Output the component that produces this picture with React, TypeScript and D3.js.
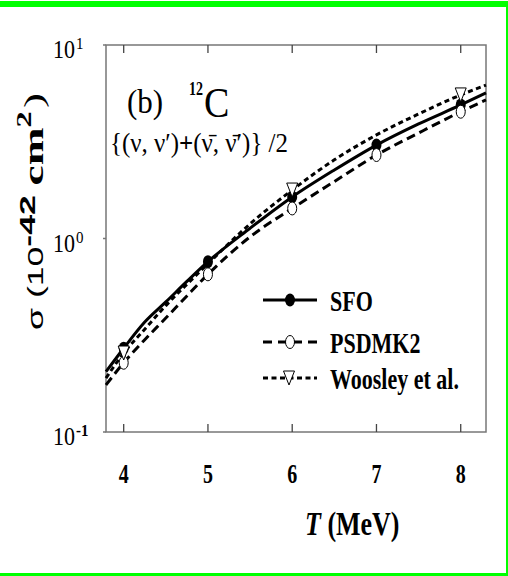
import React from "react";
import * as d3 from "d3";

// ---- data ----
const tGrid = [3.79, 4.0, 4.25, 4.5, 4.75, 5.0, 5.5, 6.0, 6.5, 7.0, 7.5, 8.0, 8.3];
const sfo = [0.205, 0.271, 0.37, 0.47, 0.6, 0.759, 1.13, 1.64, 2.26, 3.04, 3.91, 4.9, 5.65];
const psdmk2 = [0.175, 0.228, 0.3, 0.388, 0.505, 0.653, 1.02, 1.43, 1.97, 2.7, 3.51, 4.52, 5.2];
const woosley = [0.19, 0.256, 0.34, 0.45, 0.58, 0.74, 1.19, 1.78, 2.55, 3.43, 4.4, 5.52, 6.2];
const markerT_SFO = [4, 5, 6, 7, 8];
const markerT_PSDMK2 = [4, 5, 6, 7, 8];
const markerT_Woosley = [4, 6, 8];
const xTicks = [4, 5, 6, 7, 8];
const yTicks = [{ v: 0.1, e: "-1" }, { v: 1, e: "0" }, { v: 10, e: "1" }];
const legendLabels = ["SFO", "PSDMK2", "Woosley et al."];

const W = 508, H = 576;
const SERIF = "'Liberation Serif', 'Times New Roman', serif";
const SANS = "'Liberation Sans', Arial, sans-serif";

const x = d3.scaleLinear().domain([3.79, 8.3]).range([106, 486]);
const y = d3.scaleLog().domain([0.1, 10]).range([432, 45]);

const line = d3
  .line<[number, number]>()
  .x((d) => x(d[0]))
  .y((d) => y(d[1]))
  .curve(d3.curveMonotoneX);

const pts = (vals: number[]) => tGrid.map((t, i) => [t, vals[i]] as [number, number]);
const valAt = (vals: number[], t: number) => vals[tGrid.indexOf(t)];

const tri = (cx: number, cy: number) =>
  `M${cx - 5.5},${cy - 7}L${cx + 5.5},${cy - 7}L${cx},${cy + 7}Z`;

export default function App() {
  const axisCol = "#777";
  const legY = [300, 342, 378];
  return (
    <svg
      width={W}
      height={H}
      style={{ position: "absolute", left: 0, top: 0, background: "#fff" }}
    >
      <rect x={0} y={0} width={W} height={H} fill="#fff" />
      {/* green frame */}
      <rect x={0} y={1} width={508} height={6} fill="#00ff00" />
      <rect x={506} y={1} width={2} height={575} fill="#00ff00" />
      <rect x={0} y={573} width={508} height={3} fill="#00ff00" />

      {/* axes box */}
      <rect x={106} y={45} width={380} height={387} fill="none" stroke={axisCol} strokeWidth={1.5} />
      {xTicks.map((t) => (
        <g key={t}>
          <line x1={x(t)} x2={x(t)} y1={432} y2={424} stroke="#444" strokeWidth={1.3} />
          <line x1={x(t)} x2={x(t)} y1={45} y2={53} stroke="#444" strokeWidth={1.3} />
          <text
            transform={`translate(${x(t)},483) scale(1,1.33)`}
            textAnchor="middle"
            fontFamily={SERIF}
            fontWeight="bold"
            fontSize={20}
          >
            {t}
          </text>
        </g>
      ))}
      {yTicks.map((tk) => (
        <g key={tk.e}>
          <line x1={103} x2={106} y1={y(tk.v)} y2={y(tk.v)} stroke={axisCol} strokeWidth={1.5} />
          <text
            transform={`translate(53,${y(tk.v) + 13}) scale(1,1.1)`}
            fontFamily={SERIF}
            fontSize={22}
          >
            10
          </text>
          <text
            transform={`translate(76,${y(tk.v) + 4}) scale(1,1.1)`}
            fontFamily={SERIF}
            fontWeight={tk.e === "-1" ? "bold" : "normal"}
            fontSize={15}
          >
            {tk.e}
          </text>
        </g>
      ))}

      {/* axis titles */}
      <text transform="translate(305,535) scale(1,1.3)" fontFamily={SERIF} fontWeight="bold" fontSize={26}>
        <tspan fontStyle="italic">T</tspan>
        <tspan> (MeV)</tspan>
      </text>
      <text
        transform="translate(43,330) rotate(-90)"
        fontFamily={SANS}
        textLength={237}
        lengthAdjust="spacingAndGlyphs"
      >
        <tspan fontSize={22}>σ (10</tspan>
        <tspan fontSize={22} fontWeight="bold" dy={-8}>-42</tspan>
        <tspan fontFamily={SERIF} fontWeight="bold" fontSize={28} dy={8} dx={6}>cm</tspan>
        <tspan fontFamily={SERIF} fontWeight="bold" fontSize={20} dy={-12}>2</tspan>
        <tspan fontFamily={SERIF} fontSize={28} dy={12} dx={2}>)</tspan>
      </text>

      {/* annotations */}
      <text transform="translate(127,113) scale(1,1.1)" fontFamily={SERIF} fontSize={31}>(b)</text>
      <text transform="translate(189,95) scale(1,1.3)" fontFamily={SERIF} fontWeight="bold" fontSize={14}>12</text>
      <text transform="translate(204,117) scale(1,1.1)" fontFamily={SERIF} fontSize={38}>C</text>
      <text
        transform="translate(110,152) scale(1,1.2)"
        fontFamily={SERIF}
        fontSize={22}
        textLength={178}
        lengthAdjust="spacingAndGlyphs"
      >
        {"{(ν, ν′)"}
        <tspan fontWeight="bold">+</tspan>
        {"(ν\u0304, ν\u0304′)} /2"}
      </text>

      {/* curves */}
      <path d={line(pts(sfo)) || ""} fill="none" stroke="#000" strokeWidth={3} />
      <path d={line(pts(psdmk2)) || ""} fill="none" stroke="#000" strokeWidth={3} strokeDasharray="9,5" />
      <path d={line(pts(woosley)) || ""} fill="none" stroke="#000" strokeWidth={3} strokeDasharray="5,3.5" />

      {/* markers */}
      {markerT_SFO.map((t) => (
        <ellipse key={"s" + t} cx={x(t)} cy={y(valAt(sfo, t))} rx={5} ry={6.5} fill="#000" />
      ))}
      {markerT_PSDMK2.map((t) => (
        <ellipse key={"p" + t} cx={x(t)} cy={y(valAt(psdmk2, t))} rx={4.5} ry={6.5} fill="#fff" stroke="#000" strokeWidth={1} />
      ))}
      {markerT_Woosley.map((t) => (
        <path key={"w" + t} d={tri(x(t), y(valAt(woosley, t)))} fill="#fff" stroke="#000" strokeWidth={1} />
      ))}

      {/* legend */}
      <line x1={263} x2={317} y1={legY[0]} y2={legY[0]} stroke="#000" strokeWidth={3} />
      <ellipse cx={290} cy={legY[0]} rx={5} ry={6.5} fill="#000" />
      <line x1={263} x2={317} y1={legY[1]} y2={legY[1]} stroke="#000" strokeWidth={3} strokeDasharray="9,6" />
      <ellipse cx={290} cy={legY[1]} rx={4.5} ry={6.5} fill="#fff" stroke="#000" strokeWidth={1} />
      <line x1={263} x2={317} y1={legY[2]} y2={legY[2]} stroke="#000" strokeWidth={3} strokeDasharray="5,3.5" />
      <path d={tri(289, legY[2])} fill="#fff" stroke="#000" strokeWidth={1} />
      {legendLabels.map((l, i) => (
        <text
          key={l}
          transform={`translate(330,${legY[i] + 11}) scale(1,1.35)`}
          fontFamily={SERIF}
          fontWeight="bold"
          fontSize={22}
        >
          {l}
        </text>
      ))}
    </svg>
  );
}
